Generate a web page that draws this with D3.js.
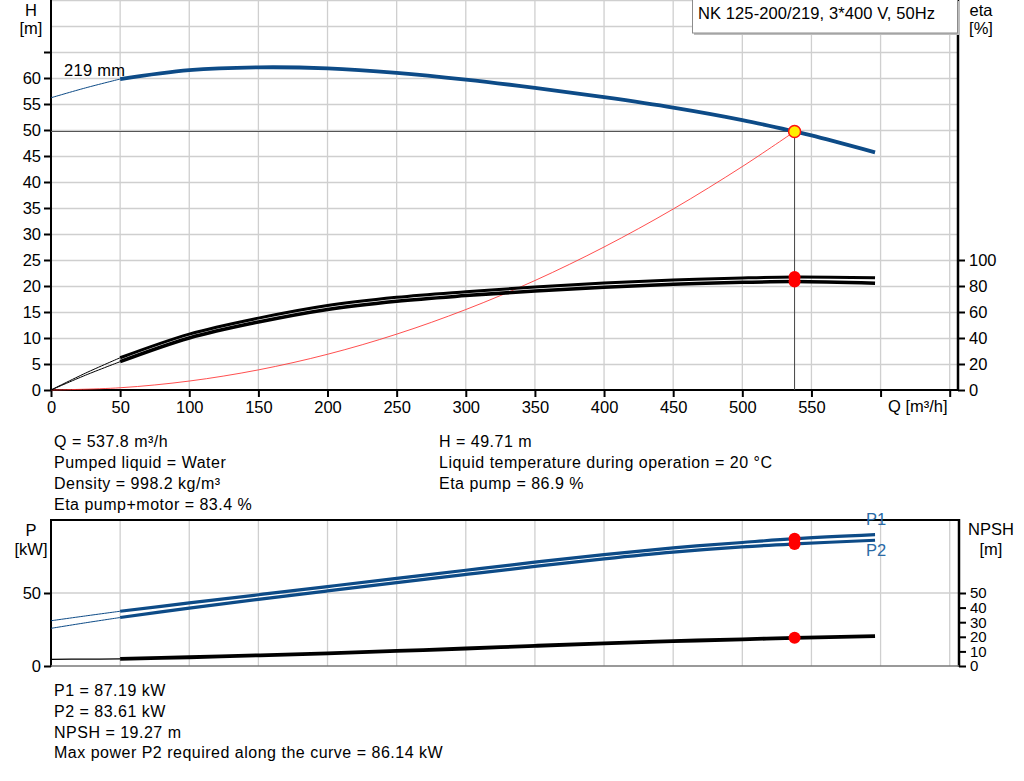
<!DOCTYPE html>
<html><head><meta charset="utf-8">
<script src="https://cdn.jsdelivr.net/npm/d3@7/dist/d3.min.js"></script>
<style>
html,body{margin:0;padding:0;background:#fff;}
svg{display:block;font-family:"Liberation Sans",Arial,sans-serif;}
</style></head>
<body>
<svg id="c" width="1024" height="781"></svg>
<script>
// ---- data ----
const qTicks = [0,50,100,150,200,250,300,350,400,450,500,550,600,650];
const qLabelMax = 550;
const hTicks = [0,5,10,15,20,25,30,35,40,45,50,55,60,65];
const etaTicks = [0,20,40,60,80,100];
const pTicks = [0,50];
const npshTicks = [0,10,20,30,40,50];

const qH   = [0, 25, 50, 100, 150, 200, 250, 300, 350, 400, 450, 500, 537.8, 550, 596];
const hVal = [56.2, 58.1, 59.8, 61.5, 62.05, 61.85, 61.0, 59.7, 58.1, 56.3, 54.3, 51.9, 49.71, 48.95, 45.7];

const qEta    = [0, 25, 50, 100, 150, 200, 250, 300, 350, 400, 450, 500, 537.8, 596];
const etaPump = [0, 13.0, 24.8, 43.0, 55.3, 65.0, 71.3, 75.6, 79.3, 82.3, 84.6, 86.2, 86.9, 86.3];
const etaPM   = [0, 11.4, 21.8, 40.0, 52.3, 62.0, 68.3, 72.6, 76.2, 79.1, 81.3, 82.8, 83.4, 82.1];

const qSys = [0, 50, 100, 150, 200, 250, 300, 350, 400, 450, 500, 537.8];
const hSys = [0, 0.43, 1.72, 3.87, 6.87, 10.74, 15.47, 21.05, 27.5, 34.8, 42.97, 49.71];

const qP = [0, 25, 50, 100, 150, 200, 250, 300, 350, 400, 450, 500, 537.8, 596];
const p1 = [31.0, 34.3, 37.5, 43.2, 48.8, 54.4, 60.0, 65.6, 71.1, 76.3, 80.9, 84.6, 87.19, 90.0];
const p2 = [25.8, 29.6, 33.2, 39.6, 45.6, 51.4, 57.1, 62.7, 68.2, 73.4, 78.0, 81.6, 83.61, 86.14];

const qN   = [0, 25, 50, 100, 150, 200, 250, 300, 350, 400, 450, 500, 537.8, 596];
const npsh = [4.6, 4.7, 4.9, 6.0, 7.3, 8.7, 10.3, 12.0, 13.8, 15.5, 17.0, 18.3, 19.27, 20.5];

const opQ = 537.8, opH = 49.71, opEtaPump = 86.9, opEtaPM = 83.4, opP1 = 87.19, opP2 = 83.61, opNpsh = 19.27;
const thinEnd = 50;

const title = "NK 125-200/219, 3*400 V, 50Hz";
const curveLabel = "219 mm";
const infoLeft = ["Q = 537.8 m\u00b3/h", "Pumped liquid = Water", "Density = 998.2 kg/m\u00b3", "Eta pump+motor = 83.4 %"];
const infoRight = ["H = 49.71 m", "Liquid temperature during operation = 20 \u00b0C", "Eta pump = 86.9 %"];
const infoBottom = ["P1 = 87.19 kW", "P2 = 83.61 kW", "NPSH = 19.27 m", "Max power P2 required along the curve = 86.14 kW"];

// ---- drawing ----
const svg = d3.select("#c");
const X0 = 51, X1 = 958;
const x = d3.scaleLinear().domain([0, 656]).range([X0, X1]);
const yH = d3.scaleLinear().domain([0, 75]).range([390, 0]);
const yEta = d3.scaleLinear().domain([0, 300]).range([390, 0]);
const yP = d3.scaleLinear().domain([0, 100]).range([666, 520]);
const yN = d3.scaleLinear().domain([0, 100]).range([666, 520]);

const GRID = "#cfcfcf", BLUE = "#0d4b87", LBLUE = "#2a6aa6";
const FS = 16.5, FT = 16.5;

function zip(qs, vs){ return qs.map((q,i)=>[q, vs[i]]); }
function split(pts){
  return [pts.filter(p=>p[0] <= thinEnd), pts.filter(p=>p[0] >= thinEnd)];
}
function drawCurve(g, pts, ys, color, wThin, wThick){
  const line = d3.line().x(d=>x(d[0])).y(d=>ys(d[1])).curve(d3.curveCatmullRom.alpha(0.5));
  const [a,b] = split(pts);
  g.append("path").attr("d", line(a)).attr("fill","none").attr("stroke",color).attr("stroke-width",wThin);
  g.append("path").attr("d", line(b)).attr("fill","none").attr("stroke",color).attr("stroke-width",wThick).attr("stroke-linecap","butt");
}
function styleAxis(a, fs){
  a.select(".domain").remove();
  a.selectAll("line").attr("stroke","#000").attr("stroke-width",2);
  a.selectAll("text").attr("font-size",fs || FT).attr("fill","#000").attr("font-family","Liberation Sans, Arial, sans-serif");
}

// ===== top chart =====
const gTop = svg.append("g");
gTop.selectAll(".vg").data(qTicks.filter(q=>q>0)).join("line")
  .attr("x1",d=>x(d)).attr("x2",d=>x(d)).attr("y1",0).attr("y2",390)
  .attr("stroke",GRID).attr("stroke-width",1.3);
gTop.selectAll(".hg").data(d3.range(5, 80, 5)).join("line")
  .attr("x1",X0).attr("x2",X1).attr("y1",d=>yH(d)+0.5).attr("y2",d=>yH(d)+0.5)
  .attr("stroke",GRID).attr("stroke-width",1.3);

const axL = gTop.append("g").attr("transform",`translate(${X0},0)`)
  .call(d3.axisLeft(yH).tickValues(hTicks).tickFormat(d=> d<=60 ? d : "").tickSize(7).tickPadding(3));
const axB = gTop.append("g").attr("transform",`translate(0,390)`)
  .call(d3.axisBottom(x).tickValues(qTicks).tickFormat(d=> d<=qLabelMax ? d : "").tickSize(7).tickPadding(4));
const axR = gTop.append("g").attr("transform",`translate(${X1},0)`)
  .call(d3.axisRight(yEta).tickValues(etaTicks).tickSize(7).tickPadding(4));
[axL,axB,axR].forEach(a=>styleAxis(a));
gTop.append("line").attr("x1",X0).attr("x2",X0).attr("y1",0).attr("y2",391).attr("stroke","#000").attr("stroke-width",2);
gTop.append("line").attr("x1",X1).attr("x2",X1).attr("y1",0).attr("y2",391).attr("stroke","#000").attr("stroke-width",2.5);
gTop.append("line").attr("x1",X0-1).attr("x2",X1+1).attr("y1",390).attr("y2",390).attr("stroke","#000").attr("stroke-width",2);

gTop.append("text").attr("x",31).attr("y",16).attr("text-anchor","middle").attr("font-size",FT).text("H");
gTop.append("text").attr("x",31).attr("y",34).attr("text-anchor","middle").attr("font-size",FT).text("[m]");
gTop.append("text").attr("x",981).attr("y",16).attr("text-anchor","middle").attr("font-size",FT).text("eta");
gTop.append("text").attr("x",981).attr("y",34).attr("text-anchor","middle").attr("font-size",FT).text("[%]");
gTop.append("text").attr("x",888).attr("y",412).attr("font-size",FT).text("Q [m\u00b3/h]");

gTop.append("line").attr("x1",X0).attr("x2",x(opQ)).attr("y1",yH(opH)).attr("y2",yH(opH)).attr("stroke","#555").attr("stroke-width",1);
gTop.append("line").attr("x1",x(opQ)).attr("x2",x(opQ)).attr("y1",yH(opH)).attr("y2",390).attr("stroke","#444").attr("stroke-width",1);

gTop.append("path").attr("d", d3.line().x(d=>x(d[0])).y(d=>yH(d[1])).curve(d3.curveCatmullRom.alpha(0.5))(zip(qSys,hSys)))
  .attr("fill","none").attr("stroke","#ff3030").attr("stroke-width",1).attr("opacity",0.85);

drawCurve(gTop, zip(qEta, etaPump), yEta, "#000", 1, 3);
drawCurve(gTop, zip(qEta, etaPM), yEta, "#000", 1, 3.5);
drawCurve(gTop, zip(qH, hVal), yH, BLUE, 1, 3.8);

gTop.append("text").attr("x",64).attr("y",76).attr("font-size",FS).attr("letter-spacing",0.3).text(curveLabel);

[opEtaPump, opEtaPM].forEach(v=>{
  gTop.append("circle").attr("cx",x(opQ)).attr("cy",yEta(v)).attr("r",6).attr("fill","#ff0000");
});
gTop.append("circle").attr("cx",x(opQ)).attr("cy",yH(opH)).attr("r",6).attr("fill","#ffee00").attr("stroke","#ff1010").attr("stroke-width",1.5);

gTop.append("rect").attr("x",694).attr("y",1).attr("width",266).attr("height",34).attr("fill","#bdbdbd");
gTop.append("rect").attr("x",692.5).attr("y",-1).attr("width",265).attr("height",34).attr("fill","#fff").attr("stroke","#8c8c8c").attr("stroke-width",1);
gTop.append("text").attr("x",698).attr("y",19).attr("font-size",FS).attr("letter-spacing",0.1).text(title);

function infoBlock(lines, x0, y0, dy){
  lines.forEach((t,i)=> svg.append("text").attr("x",x0).attr("y",y0+i*dy).attr("font-size",16).attr("letter-spacing",0.5).text(t));
}
infoBlock(infoLeft, 54, 446.5, 21.2);
infoBlock(infoRight, 439, 446.5, 21.2);
infoBlock(infoBottom, 54, 696, 20.8);

// ===== bottom chart =====
const gBot = svg.append("g");
gBot.selectAll(".vg").data(qTicks.filter(q=>q>0)).join("line")
  .attr("x1",d=>x(d)).attr("x2",d=>x(d)).attr("y1",520).attr("y2",666)
  .attr("stroke",GRID).attr("stroke-width",1.3);
gBot.append("line").attr("x1",X0).attr("x2",X1).attr("y1",yP(50)).attr("y2",yP(50)).attr("stroke",GRID).attr("stroke-width",1.3);

const bL = gBot.append("g").attr("transform",`translate(${X0},0)`)
  .call(d3.axisLeft(yP).tickValues(pTicks).tickSize(7).tickPadding(3));
const bR = gBot.append("g").attr("transform",`translate(${X1+1},0)`)
  .call(d3.axisRight(yN).tickValues(npshTicks).tickSize(7).tickPadding(4));
styleAxis(bL);
styleAxis(bR, 15);
gBot.append("line").attr("x1",X0).attr("x2",X0).attr("y1",519).attr("y2",667).attr("stroke","#000").attr("stroke-width",2);
gBot.append("line").attr("x1",X1+1).attr("x2",X1+1).attr("y1",519).attr("y2",667).attr("stroke","#000").attr("stroke-width",2.5);
gBot.append("line").attr("x1",X0).attr("x2",X1+1).attr("y1",520).attr("y2",520).attr("stroke","#000").attr("stroke-width",2);
gBot.append("line").attr("x1",X0).attr("x2",X1+1).attr("y1",666).attr("y2",666).attr("stroke","#777").attr("stroke-width",1.5);

gBot.append("text").attr("x",31).attr("y",536).attr("text-anchor","middle").attr("font-size",FT).text("P");
gBot.append("text").attr("x",31).attr("y",555).attr("text-anchor","middle").attr("font-size",FT).text("[kW]");
gBot.append("text").attr("x",991).attr("y",535).attr("text-anchor","middle").attr("font-size",FT).text("NPSH");
gBot.append("text").attr("x",991).attr("y",555).attr("text-anchor","middle").attr("font-size",FT).text("[m]");

drawCurve(gBot, zip(qP, p1), yP, BLUE, 1, 3.2);
drawCurve(gBot, zip(qP, p2), yP, BLUE, 1, 3.2);
drawCurve(gBot, zip(qN, npsh), yN, "#000", 1.2, 3.8);

gBot.append("text").attr("x",866).attr("y",525).attr("font-size",FT).attr("fill",LBLUE).text("P1");
gBot.append("text").attr("x",866).attr("y",556).attr("font-size",FT).attr("fill",LBLUE).text("P2");

[opP1, opP2].forEach(v=> gBot.append("circle").attr("cx",x(opQ)).attr("cy",yP(v)).attr("r",6).attr("fill","#ff0000"));
gBot.append("circle").attr("cx",x(opQ)).attr("cy",yN(opNpsh)).attr("r",6).attr("fill","#ff0000");
</script>
</body></html>
